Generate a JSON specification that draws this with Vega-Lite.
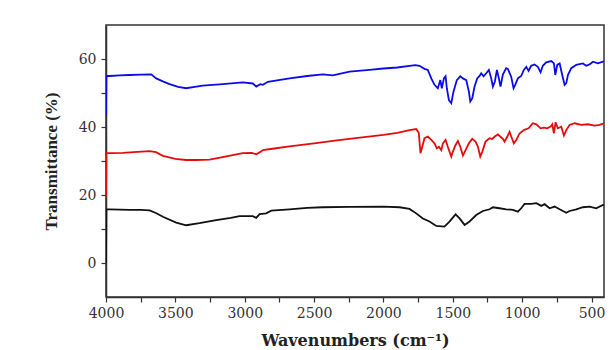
{
"$schema": "https://vega.github.io/schema/vega-lite/v6.json",
"width": 498, "height": 272,
"autosize": "none",
"padding": {"left": 106, "top": 25, "right": 9, "bottom": 53},
"background": "white",
"config": {
  "view": {"stroke": "#333333", "strokeWidth": 1.5},
  "axis": {"grid": false, "domainColor": "#333333", "domainWidth": 1.5, "tickColor": "#333333", "tickWidth": 1.2, "tickSize": 5,
           "labelFont": "DejaVu Serif", "labelFontSize": 14, "labelColor": "#333333", "labelPadding": 4, "labelFlush": false, "labelOverlap": false,
           "titleColor": "#222222", "titleFontWeight": "bold"}
},
"data": {"values": [
{"s":"b","w":4000,"t":43.5},{"s":"b","w":3997,"t":55.0},{"s":"b","w":3975,"t":55.0},{"s":"b","w":3900,"t":55.2},{"s":"b","w":3831,"t":55.3},{"s":"b","w":3750,"t":55.4},{"s":"b","w":3674,"t":55.5},{"s":"b","w":3638,"t":54.3},{"s":"b","w":3590,"t":53.4},{"s":"b","w":3542,"t":52.6},{"s":"b","w":3480,"t":51.8},{"s":"b","w":3422,"t":51.4},{"s":"b","w":3360,"t":51.8},{"s":"b","w":3302,"t":52.2},{"s":"b","w":3158,"t":52.6},{"s":"b","w":3014,"t":53.1},{"s":"b","w":2942,"t":52.8},{"s":"b","w":2917,"t":51.9},{"s":"b","w":2888,"t":52.6},{"s":"b","w":2869,"t":52.4},{"s":"b","w":2833,"t":53.3},{"s":"b","w":2677,"t":54.3},{"s":"b","w":2550,"t":55.0},{"s":"b","w":2437,"t":55.5},{"s":"b","w":2365,"t":55.2},{"s":"b","w":2244,"t":56.3},{"s":"b","w":2100,"t":56.8},{"s":"b","w":2000,"t":57.2},{"s":"b","w":1900,"t":57.5},{"s":"b","w":1812,"t":58.0},{"s":"b","w":1770,"t":58.2},{"s":"b","w":1740,"t":58.0},{"s":"b","w":1704,"t":57.1},{"s":"b","w":1680,"t":56.8},{"s":"b","w":1655,"t":54.3},{"s":"b","w":1632,"t":52.4},{"s":"b","w":1608,"t":51.4},{"s":"b","w":1590,"t":53.8},{"s":"b","w":1579,"t":51.4},{"s":"b","w":1564,"t":54.3},{"s":"b","w":1552,"t":54.9},{"s":"b","w":1543,"t":51.4},{"s":"b","w":1528,"t":47.9},{"s":"b","w":1511,"t":47.0},{"s":"b","w":1495,"t":50.4},{"s":"b","w":1471,"t":53.8},{"s":"b","w":1446,"t":54.9},{"s":"b","w":1427,"t":54.3},{"s":"b","w":1403,"t":53.8},{"s":"b","w":1384,"t":50.4},{"s":"b","w":1374,"t":47.5},{"s":"b","w":1360,"t":48.4},{"s":"b","w":1343,"t":51.9},{"s":"b","w":1324,"t":54.3},{"s":"b","w":1307,"t":55.0},{"s":"b","w":1295,"t":55.8},{"s":"b","w":1278,"t":54.9},{"s":"b","w":1259,"t":55.8},{"s":"b","w":1240,"t":56.8},{"s":"b","w":1223,"t":54.3},{"s":"b","w":1211,"t":51.9},{"s":"b","w":1197,"t":53.3},{"s":"b","w":1182,"t":56.8},{"s":"b","w":1168,"t":54.3},{"s":"b","w":1156,"t":51.9},{"s":"b","w":1139,"t":55.4},{"s":"b","w":1115,"t":57.3},{"s":"b","w":1103,"t":57.1},{"s":"b","w":1079,"t":54.8},{"s":"b","w":1062,"t":51.4},{"s":"b","w":1050,"t":52.4},{"s":"b","w":1031,"t":54.3},{"s":"b","w":1007,"t":55.0},{"s":"b","w":988,"t":56.8},{"s":"b","w":970,"t":57.7},{"s":"b","w":954,"t":56.5},{"s":"b","w":935,"t":58.0},{"s":"b","w":911,"t":58.4},{"s":"b","w":887,"t":57.7},{"s":"b","w":867,"t":56.1},{"s":"b","w":851,"t":58.0},{"s":"b","w":826,"t":59.0},{"s":"b","w":790,"t":59.4},{"s":"b","w":771,"t":58.7},{"s":"b","w":761,"t":55.3},{"s":"b","w":747,"t":58.3},{"s":"b","w":730,"t":58.7},{"s":"b","w":714,"t":55.8},{"s":"b","w":694,"t":52.4},{"s":"b","w":682,"t":52.9},{"s":"b","w":670,"t":55.3},{"s":"b","w":646,"t":57.3},{"s":"b","w":610,"t":58.3},{"s":"b","w":562,"t":58.7},{"s":"b","w":538,"t":58.0},{"s":"b","w":514,"t":58.4},{"s":"b","w":490,"t":59.2},{"s":"b","w":454,"t":58.7},{"s":"b","w":418,"t":59.2},{"s":"b","w":410,"t":59.3},
{"s":"r","w":4000,"t":19.5},{"s":"r","w":3997,"t":32.3},{"s":"r","w":3950,"t":32.3},{"s":"r","w":3879,"t":32.4},{"s":"r","w":3800,"t":32.6},{"s":"r","w":3686,"t":32.9},{"s":"r","w":3640,"t":32.6},{"s":"r","w":3590,"t":31.5},{"s":"r","w":3500,"t":30.6},{"s":"r","w":3422,"t":30.3},{"s":"r","w":3350,"t":30.3},{"s":"r","w":3254,"t":30.4},{"s":"r","w":3150,"t":31.2},{"s":"r","w":3014,"t":32.3},{"s":"r","w":2950,"t":32.4},{"s":"r","w":2917,"t":32.0},{"s":"r","w":2890,"t":32.6},{"s":"r","w":2869,"t":33.2},{"s":"r","w":2800,"t":33.6},{"s":"r","w":2677,"t":34.3},{"s":"r","w":2500,"t":35.2},{"s":"r","w":2350,"t":36.0},{"s":"r","w":2200,"t":36.7},{"s":"r","w":2000,"t":37.7},{"s":"r","w":1900,"t":38.3},{"s":"r","w":1812,"t":39.1},{"s":"r","w":1764,"t":39.4},{"s":"r","w":1745,"t":38.2},{"s":"r","w":1733,"t":32.3},{"s":"r","w":1720,"t":34.2},{"s":"r","w":1704,"t":36.7},{"s":"r","w":1680,"t":37.2},{"s":"r","w":1655,"t":36.2},{"s":"r","w":1632,"t":35.2},{"s":"r","w":1615,"t":33.7},{"s":"r","w":1600,"t":34.2},{"s":"r","w":1583,"t":33.2},{"s":"r","w":1571,"t":35.2},{"s":"r","w":1552,"t":36.2},{"s":"r","w":1536,"t":34.2},{"s":"r","w":1511,"t":31.3},{"s":"r","w":1500,"t":32.7},{"s":"r","w":1480,"t":34.7},{"s":"r","w":1463,"t":35.9},{"s":"r","w":1446,"t":34.2},{"s":"r","w":1427,"t":31.6},{"s":"r","w":1408,"t":33.2},{"s":"r","w":1384,"t":35.2},{"s":"r","w":1360,"t":36.5},{"s":"r","w":1336,"t":35.7},{"s":"r","w":1319,"t":34.2},{"s":"r","w":1302,"t":31.3},{"s":"r","w":1288,"t":32.7},{"s":"r","w":1264,"t":35.7},{"s":"r","w":1235,"t":36.7},{"s":"r","w":1216,"t":36.5},{"s":"r","w":1197,"t":37.2},{"s":"r","w":1175,"t":37.8},{"s":"r","w":1158,"t":37.2},{"s":"r","w":1139,"t":36.5},{"s":"r","w":1127,"t":35.7},{"s":"r","w":1107,"t":37.2},{"s":"r","w":1091,"t":38.6},{"s":"r","w":1074,"t":36.7},{"s":"r","w":1060,"t":35.2},{"s":"r","w":1042,"t":36.2},{"s":"r","w":1019,"t":38.1},{"s":"r","w":988,"t":39.1},{"s":"r","w":954,"t":39.6},{"s":"r","w":923,"t":41.1},{"s":"r","w":898,"t":40.8},{"s":"r","w":867,"t":39.6},{"s":"r","w":843,"t":39.8},{"s":"r","w":819,"t":39.6},{"s":"r","w":795,"t":40.1},{"s":"r","w":783,"t":40.8},{"s":"r","w":771,"t":38.1},{"s":"r","w":759,"t":41.4},{"s":"r","w":743,"t":39.6},{"s":"r","w":718,"t":40.1},{"s":"r","w":699,"t":37.5},{"s":"r","w":682,"t":39.1},{"s":"r","w":658,"t":40.6},{"s":"r","w":622,"t":41.1},{"s":"r","w":574,"t":40.6},{"s":"r","w":526,"t":40.8},{"s":"r","w":478,"t":40.4},{"s":"r","w":442,"t":40.6},{"s":"r","w":410,"t":41.1},
{"s":"k","w":4000,"t":0},{"s":"k","w":3997,"t":15.8},{"s":"k","w":3975,"t":15.8},{"s":"k","w":3900,"t":15.7},{"s":"k","w":3831,"t":15.6},{"s":"k","w":3750,"t":15.6},{"s":"k","w":3686,"t":15.5},{"s":"k","w":3640,"t":14.7},{"s":"k","w":3590,"t":13.6},{"s":"k","w":3494,"t":11.9},{"s":"k","w":3422,"t":11.1},{"s":"k","w":3326,"t":11.7},{"s":"k","w":3206,"t":12.6},{"s":"k","w":3100,"t":13.3},{"s":"k","w":3037,"t":13.8},{"s":"k","w":2942,"t":13.8},{"s":"k","w":2917,"t":13.3},{"s":"k","w":2893,"t":14.4},{"s":"k","w":2845,"t":14.6},{"s":"k","w":2809,"t":15.4},{"s":"k","w":2677,"t":15.8},{"s":"k","w":2550,"t":16.2},{"s":"k","w":2437,"t":16.4},{"s":"k","w":2244,"t":16.5},{"s":"k","w":2004,"t":16.6},{"s":"k","w":1884,"t":16.4},{"s":"k","w":1812,"t":15.9},{"s":"k","w":1764,"t":14.6},{"s":"k","w":1716,"t":13.1},{"s":"k","w":1668,"t":12.2},{"s":"k","w":1619,"t":10.9},{"s":"k","w":1560,"t":10.7},{"s":"k","w":1524,"t":12.2},{"s":"k","w":1480,"t":14.3},{"s":"k","w":1451,"t":13.1},{"s":"k","w":1415,"t":11.2},{"s":"k","w":1379,"t":12.2},{"s":"k","w":1331,"t":14.1},{"s":"k","w":1283,"t":15.3},{"s":"k","w":1235,"t":15.8},{"s":"k","w":1211,"t":16.4},{"s":"k","w":1163,"t":16.1},{"s":"k","w":1115,"t":15.8},{"s":"k","w":1067,"t":15.6},{"s":"k","w":1031,"t":15.1},{"s":"k","w":1007,"t":16.1},{"s":"k","w":983,"t":17.4},{"s":"k","w":935,"t":17.4},{"s":"k","w":898,"t":17.6},{"s":"k","w":862,"t":16.8},{"s":"k","w":838,"t":17.3},{"s":"k","w":802,"t":16.1},{"s":"k","w":766,"t":16.6},{"s":"k","w":730,"t":15.8},{"s":"k","w":682,"t":14.8},{"s":"k","w":658,"t":15.3},{"s":"k","w":610,"t":15.8},{"s":"k","w":562,"t":16.4},{"s":"k","w":514,"t":16.6},{"s":"k","w":466,"t":16.1},{"s":"k","w":418,"t":17.1},{"s":"k","w":410,"t":17.0}
]},
"mark": {"type": "line", "strokeWidth": 1.8, "clip": true},
"encoding": {
  "x": {"field": "w", "type": "quantitative",
        "scale": {"domain": [410, 4000], "reverse": true, "nice": false, "zero": false},
        "axis": {"title": "Wavenumbers (cm⁻¹)", "titleFont": "DejaVu Serif", "titleFontSize": 16, "titlePadding": 12,
                 "values": [4000,3750,3500,3250,3000,2750,2500,2250,2000,1750,1500,1250,1000,750,500],
                 "format": "d", "labelExpr": "datum.value % 500 === 0 ? datum.label : ''"}},
  "y": {"field": "t", "type": "quantitative",
        "scale": {"domain": [-10, 70], "nice": false, "zero": false},
        "axis": {"title": "Transmittance (%)", "titleFont": "Liberation Serif", "titleFontSize": 17, "titlePadding": 18,
                 "values": [0,10,20,30,40,50,60], "labelPadding": 5,
                 "labelExpr": "datum.value % 20 === 0 ? datum.label : ''"}},
  "color": {"field": "s", "type": "nominal",
            "scale": {"domain": ["b","r","k"], "range": ["#0b0be6","#e60b0b","#111111"]}, "legend": null}
}
}
